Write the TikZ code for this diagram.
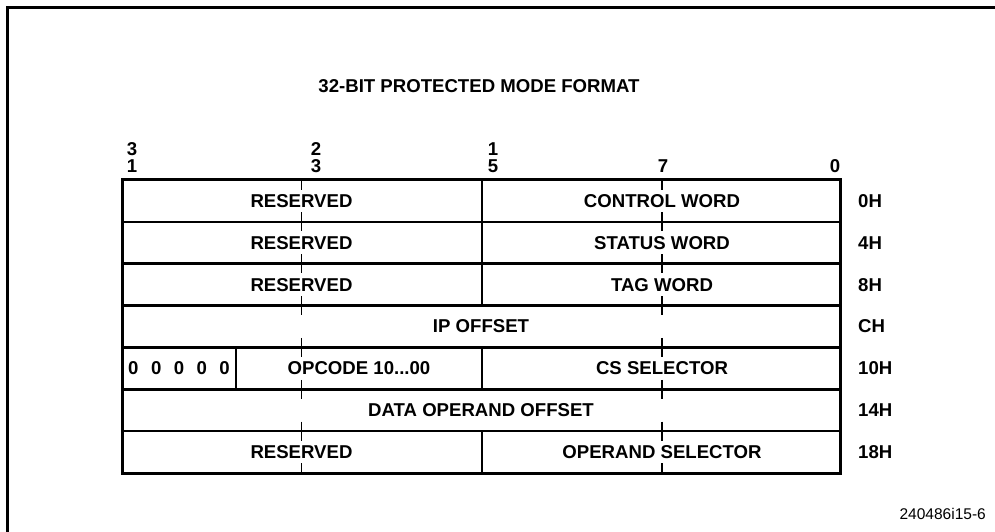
\documentclass[tikz,border=0pt]{standalone}
\usepackage{fontspec}
\setmainfont{Liberation Sans}
\begin{document}
\begin{tikzpicture}[x=1bp,y=-1bp,
  lbl/.style={font=\fontsize{18.6bp}{21bp}\selectfont\bfseries, inner sep=0pt},
  foot/.style={font=\fontsize{15.5bp}{18bp}\selectfont, inner sep=0pt},
  heavy/.style={line width=3bp},
  rowline/.style={line width=2.6bp},
  divider/.style={line width=1.7bp},
  ticks/.style={line width=1.4bp}]
\useasboundingbox (0,0) rectangle (995,532);
% page frame
\draw[heavy] (7.5,532) -- (7.5,8) -- (995,8);
% title
\node[lbl] (title) at (479,86) {32-BIT PROTECTED MODE FORMAT};
% bit numbers
\node[lbl] (b31a) at (132,149) {3};
\node[lbl] (b31b) at (132,166) {1};
\node[lbl] (b23a) at (316,149) {2};
\node[lbl] (b23b) at (316,166) {3};
\node[lbl] (b15a) at (493,149) {1};
\node[lbl] (b15b) at (493,166) {5};
\node[lbl] (b7) at (663,166) {7};
\node[lbl] (b0) at (835,166) {0};
% horizontal row lines
\foreach \k in {1,...,6} {
  \draw[rowline] (122,{180+41.857*\k}) -- (840,{180+41.857*\k});
}
% vertical dividers
\draw[divider] (482,180) -- (482,305.57);
\draw[divider] (482,347.43) -- (482,389.29);
\draw[divider] (236,347.43) -- (236,389.29);
\draw[divider] (482,431.14) -- (482,473);
% ticks
\foreach \x in {301.5,662} {
  \draw[ticks] (\x,180) -- (\x,190);
  \draw[ticks] (\x,463) -- (\x,473);
  \foreach \k in {1,...,6} {
    \draw[ticks] (\x,{180+41.857*\k-9.5}) -- (\x,{180+41.857*\k+9.5});
  }
}
% table border
\draw[heavy] (122,180) rectangle (840,473);
% row contents
\node[lbl] (r0a) at (301.5,200.93) {RESERVED};
\node[lbl] (r0b) at (662,200.93) {CONTROL WORD};
\node[lbl] (r1a) at (301.5,242.79) {RESERVED};
\node[lbl] (r1b) at (662,242.79) {STATUS WORD};
\node[lbl] (r2a) at (301.5,284.64) {RESERVED};
\node[lbl] (r2b) at (662,284.64) {TAG WORD};
\node[lbl] (r3) at (481,326.5) {IP OFFSET};
\foreach \i/\x in {1/133.4,2/156.2,3/179,4/201.8,5/224.6} {
  \node[lbl] (z\i) at (\x,368.36) {0};
}
\node[lbl] (r4a) at (359,368.36) {OPCODE 10...00};
\node[lbl] (r4b) at (662,368.36) {CS SELECTOR};
\node[lbl] (r5) at (481,410.21) {DATA OPERAND OFFSET};
\node[lbl] (r6a) at (301.5,452.07) {RESERVED};
\node[lbl] (r6b) at (662,452.07) {OPERAND SELECTOR};
% offsets
\node[lbl,anchor=west] (o0) at (858,200.93) {0H};
\node[lbl,anchor=west] (o1) at (858,242.79) {4H};
\node[lbl,anchor=west] (o2) at (858,284.64) {8H};
\node[lbl,anchor=west] (o3) at (858,326.5) {CH};
\node[lbl,anchor=west] (o4) at (858,368.36) {10H};
\node[lbl,anchor=west] (o5) at (858,410.21) {14H};
\node[lbl,anchor=west] (o6) at (858,452.07) {18H};
% figure number
\node[foot,anchor=east] (fig) at (986,514) {240486i15-6};
\end{tikzpicture}
\end{document}
